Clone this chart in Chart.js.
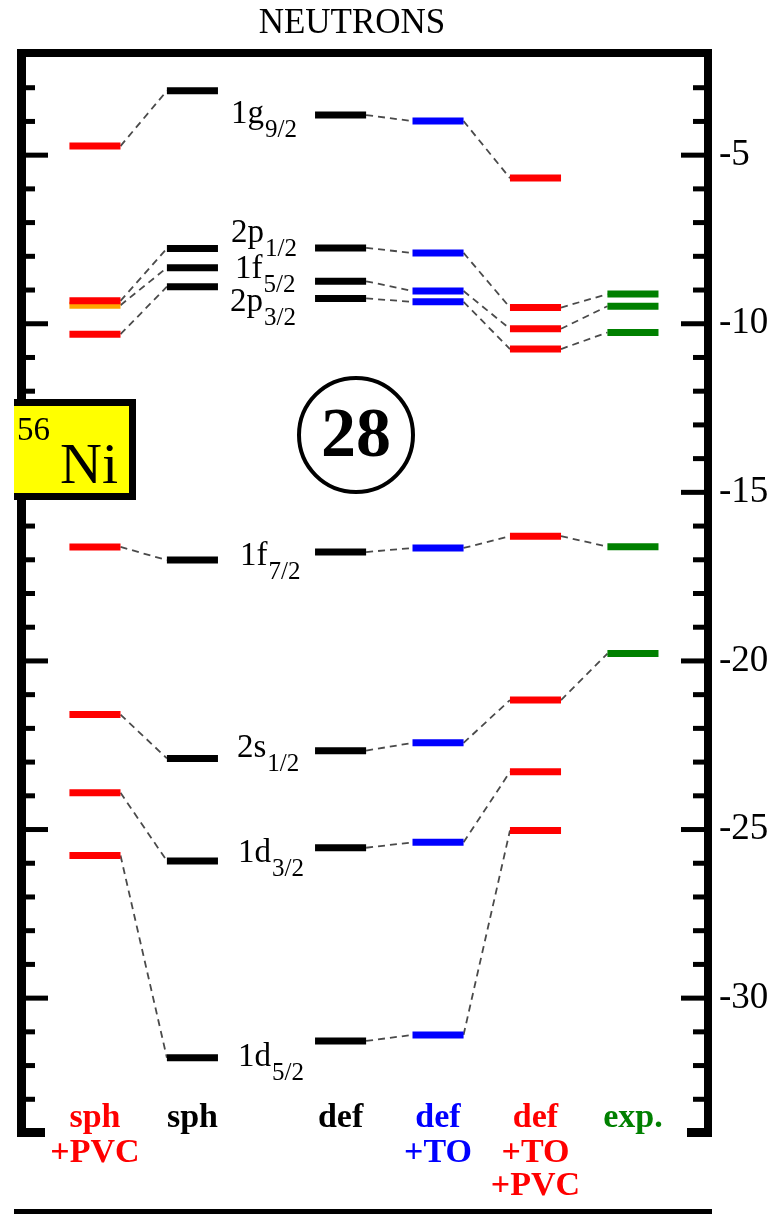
<!DOCTYPE html>
<html>
<head>
<meta charset="utf-8">
<script src="https://cdn.jsdelivr.net/npm/chart.js@4/dist/chart.umd.min.js"></script>
<style>
  html,body{margin:0;padding:0;background:#fff}
  #wrap{width:779px;height:1214px;position:relative}
</style>
</head>
<body>
<div id="wrap"><canvas id="levels" width="779" height="1214"></canvas></div>
<script>
// columns (bottom labels, one line per entry)
const columns = [['sph','+PVC'],['sph'],['def'],['def','+TO'],['def','+TO','+PVC'],['exp.']];
// orbitals: name + subscript j
const orbitals = [['1g','9/2'],['2p','1/2'],['1f','5/2'],['2p','3/2'],['1f','7/2'],['2s','1/2'],['1d','3/2'],['1d','5/2']];

// single-particle energies (MeV), same orbital order as above
const sphPVC   = [-4.73, -9.32, -9.45, -10.31, -16.62, -21.59, -23.91, -25.77];
const sph      = [-3.09, -7.77, -8.34,  -8.90, -17.01, -22.89, -25.93, -31.77];
const def      = [-3.81, -7.75, -8.74,  -9.25, -16.77, -22.66, -25.54, -31.27];
const defTO    = [-3.99, -7.90, -9.03,  -9.35, -16.65, -22.43, -25.38, -31.09];
const defTOPVC = [-5.68, -9.52, -10.15, -10.75, -16.30, -21.16, -23.29, -25.03];
const expt     = [null,  -9.12, -9.48, -10.26, -16.61, -19.78, null,   null];

// which neighbouring columns are joined by dashed lines
const links = [[0,1],[2,3],[3,4],[4,5]];

const yTicks = [-30,-25,-20,-15,-10,-5];
const yMin = -34, yMax = -2;
const title = 'NEUTRONS';
const magic = '28';
const nucleus = ['56','Ni'];

const levels = [sphPVC, sph, def, defTO, defTOPVC, expt];
const colColors = ['#ff0000','#000000','#000000','#0000ff','#ff0000','#008000'];
const SERIF = '"Liberation Serif","Times New Roman",serif';
const HALF = 0.262;
const colX = i => i + (i >= 2 ? 0.52 : 0);

const datasets = [];
levels.forEach((vals, c) => vals.forEach((v, k) => {
  if (v === null) return;
  const orange = (c === 0 && k === 2);
  datasets.push({
    data: [{x: colX(c) - HALF, y: v}, {x: colX(c) + HALF, y: v}],
    borderColor: orange ? '#ffa500' : colColors[c],
    borderWidth: 7, borderCapStyle: 'butt', pointRadius: 0,
    showLine: true, order: orange ? 2 : 1
  });
}));
links.forEach(([a, b]) => orbitals.forEach((_, k) => {
  const va = levels[a][k], vb = levels[b][k];
  if (va === null || vb === null) return;
  datasets.push({
    data: [{x: colX(a) + HALF, y: va}, {x: colX(b) - HALF, y: vb}],
    borderColor: '#4a4a4a', borderWidth: 1.8, borderDash: [7,5],
    pointRadius: 0, showLine: true, order: 3
  });
}));

// text placement for the orbital names (pixels)
const labelX = [231,231,235,230,240,237,238,238];
const labelDy = [8,-6,-3,13,13,6,14,25];

const decor = {
  id: 'decor',
  afterDraw(chart) {
    const ctx = chart.ctx, xs = chart.scales.x, ys = chart.scales.y;
    const a = chart.chartArea;
    ctx.save();
    ctx.fillStyle = '#000';
    // frame
    const L = a.left - 4, R = a.right - 4, T = a.top - 5, B = a.bottom + 4;
    ctx.fillRect(L, T, R + 8 - L, 8);
    ctx.fillRect(L, T, 9, B - T);
    ctx.fillRect(R, T, 8, B - T);
    ctx.fillRect(L, B - 9, 28, 9);
    ctx.fillRect(R + 8 - 25, B - 9, 25, 9);
    // ticks every unit, long ones on labelled values
    for (let v = yMin + 1; v < yMax; v++) {
      const y = ys.getPixelForValue(v);
      const major = yTicks.includes(v);
      ctx.fillRect(L + 9, y - 2.5, major ? 22 : 9, 5);
      const len = major ? 23 : 11;
      ctx.fillRect(R - len, y - 2.5, len, 5);
    }
    // bottom rule
    ctx.fillRect(14, 1209, 698, 5);

    // title
    ctx.font = '35px ' + SERIF;
    ctx.textAlign = 'center'; ctx.textBaseline = 'alphabetic';
    ctx.fillText(title, 352, 33);

    // orbital names next to "def" levels
    ctx.textAlign = 'left';
    orbitals.forEach(([n, j], k) => {
      const yb = ys.getPixelForValue(def[k]) + labelDy[k];
      ctx.font = '33px ' + SERIF;
      ctx.fillText(n, labelX[k], yb);
      const w = ctx.measureText(n).width;
      ctx.font = '25px ' + SERIF;
      ctx.fillText(j, labelX[k] + w + 1, yb + 14);
    });

    // magic number
    ctx.lineWidth = 4; ctx.strokeStyle = '#000';
    ctx.beginPath(); ctx.arc(356, 435, 57, 0, Math.PI * 2); ctx.stroke();
    ctx.font = 'bold 70px ' + SERIF;
    ctx.textAlign = 'center'; ctx.textBaseline = 'middle';
    ctx.fillText(magic, 356, 438);

    // nucleus box
    ctx.fillStyle = '#ffff00';
    ctx.fillRect(14, 399, 122, 101);
    ctx.fillStyle = '#000';
    ctx.fillRect(14, 399, 122, 7);
    ctx.fillRect(129, 399, 7, 101);
    ctx.fillRect(14, 493, 122, 7);
    ctx.textAlign = 'left'; ctx.textBaseline = 'alphabetic';
    ctx.font = '33px ' + SERIF;
    ctx.fillText(nucleus[0], 17, 440);
    ctx.font = '58px ' + SERIF;
    ctx.fillText(nucleus[1], 60, 483);

    // column captions
    ctx.font = 'bold 34px ' + SERIF;
    ctx.textAlign = 'center';
    const base = [1127, 1162, 1195];
    columns.forEach((lines, c) => {
      ctx.fillStyle = colColors[c];
      const x = xs.getPixelForValue(colX(c));
      lines.forEach((t, i) => ctx.fillText(t, x, base[i]));
    });
    ctx.restore();
  }
};

new Chart(document.getElementById('levels'), {
  type: 'scatter',
  data: {datasets},
  options: {
    responsive: false, animation: false, events: [],
    layout: {padding: {left: 21, right: 0, top: 54, bottom: 81}},
    plugins: {legend: {display: false}, tooltip: {enabled: false}},
    scales: {
      x: {type: 'linear', min: -0.759, max: 6.29, display: false},
      y: {
        type: 'linear', position: 'right', min: yMin, max: yMax,
        afterBuildTicks: s => { s.ticks = yTicks.map(v => ({value: v})); },
        afterFit: s => { s.width = 71; },
        grid: {display: false, drawTicks: false},
        border: {display: false},
        ticks: {padding: 11, color: '#000', font: {family: SERIF, size: 37}}
      }
    }
  },
  plugins: [decor]
});
</script>
</body>
</html>
